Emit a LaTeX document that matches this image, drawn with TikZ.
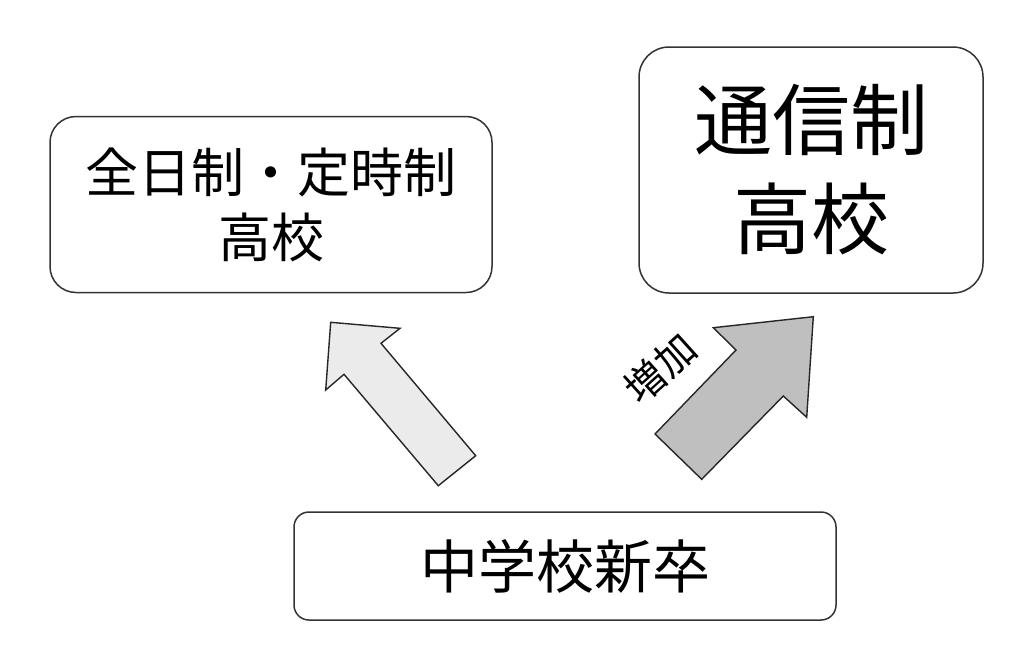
\documentclass[tikz,border=0pt]{standalone}
\usepackage{fontspec}
\newfontfamily\jp{Noto Sans CJK JP}
\usetikzlibrary{positioning}

\begin{document}
\begin{tikzpicture}[x=1pt,y=-1pt,
  box/.style={draw=black!80, line width=1.5pt, fill=white, align=center, inner sep=0pt},
  bigarrow/.style={draw=black!85, line width=1.4pt, line join=miter}]

  \useasboundingbox[fill=white] (0,0) rectangle (1024,665);

% define the boxes
  \node[box, rounded corners=26pt, minimum width=442pt, minimum height=176pt,
        font=\jp\fontsize{53}{65}\selectfont]  (full)   at (271,204.5)
{全日制・定時制\\高校};
  \node[box, rounded corners=30pt, minimum width=344pt, minimum height=246pt,
        font=\jp\fontsize{78}{99}\selectfont]  (corr)   at (811,170)
{通信制\\高校};
  \node[box, rounded corners=15pt, minimum width=542pt, minimum height=108pt,
        font=\jp\fontsize{58}{70}\selectfont]  (junior) at (565,566)
{中学校新卒};

% define the arrows
  \draw[bigarrow, fill=black!8]
    (330.7,322.3) -- (400,328.3) -- (381,343.3) -- (475.7,455.7)
    -- (438.3,485.7) -- (344,374.3) -- (325.7,390) -- cycle;
  \draw[bigarrow, fill=black!25]
    (813.3,316.7) -- (713.3,327.7) -- (736,350) -- (655,434)
    -- (701.7,479.3) -- (783.3,396) -- (806.7,417.3) -- cycle;

  \node[rotate=42, inner sep=0pt, font=\jp\fontsize{40}{44}\selectfont] (inc) at (660,368) {増加};

\end{tikzpicture}
\end{document}
